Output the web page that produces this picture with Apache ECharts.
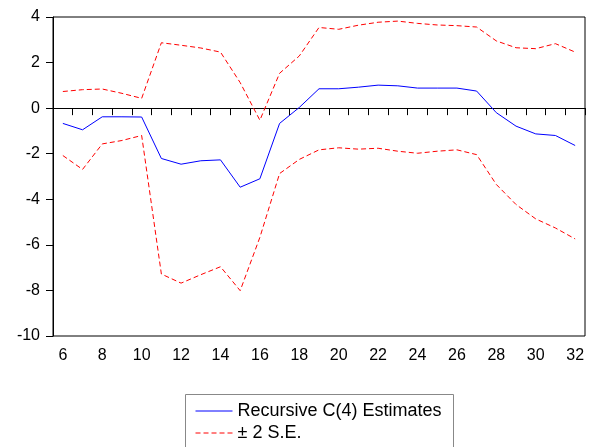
<!DOCTYPE html>
<html>
<head>
<meta charset="utf-8">
<script src="https://cdn.jsdelivr.net/npm/echarts@6/dist/echarts.min.js"></script>
<style>html,body{margin:0;padding:0;background:#fff;}#c{width:595px;height:447px;}</style>
</head>
<body>
<div id="c"></div>
<script>
var categories = ['6','7','8','9','10','11','12','13','14','15','16','17','18','19','20','21','22','23','24','25','26','27','28','29','30','31','32'];
var estimates = [-0.67,-0.95,-0.38,-0.38,-0.39,-2.21,-2.46,-2.31,-2.27,-3.47,-3.10,-0.67,0.03,0.85,0.85,0.92,1.01,0.98,0.88,0.88,0.88,0.75,-0.20,-0.79,-1.13,-1.20,-1.64];
var upperBand = [0.73,0.81,0.84,0.65,0.43,2.87,2.76,2.64,2.46,1.12,-0.53,1.53,2.29,3.54,3.46,3.64,3.77,3.82,3.72,3.65,3.62,3.56,2.95,2.65,2.61,2.83,2.46];
var lowerBand = [-2.08,-2.69,-1.57,-1.42,-1.20,-7.28,-7.68,-7.31,-6.96,-8.01,-5.67,-2.87,-2.25,-1.83,-1.74,-1.80,-1.76,-1.89,-1.98,-1.89,-1.83,-2.04,-3.35,-4.23,-4.86,-5.26,-5.74];
var estName = 'Recursive C(4) Estimates';
var seName = '\u00b1 2 S.E.';

var font = '"Liberation Sans", Arial, sans-serif';
var legendBase = {
  orient: 'vertical',
  itemWidth: 37, itemHeight: 14, itemGap: 5,
  itemStyle: {opacity: 0},
  lineStyle: {width: 1},
  textStyle: {fontFamily: font, fontSize: 18, color: '#000', lineHeight: 18}
};
var chart = echarts.init(document.getElementById('c'), null, {renderer: 'canvas'});
chart.setOption({
  animation: false,
  backgroundColor: '#fff',
  graphic: [{
    type: 'rect', left: 185, top: 394, z: 0,
    shape: {width: 268, height: 80},
    style: {fill: '#fff', stroke: '#888', lineWidth: 1}
  }],
  grid: {left: 53, right: 10, top: 17, bottom: 111, show: true, borderColor: '#000', borderWidth: 1},
  legend: [
    Object.assign({}, legendBase, {data: [estName], left: 185, top: 402, padding: [0, 10, 0, 10]}),
    Object.assign({}, legendBase, {data: [seName], left: 185, top: 424, padding: [0, 10, 0, 10]})
  ],
  xAxis: {
    type: 'category', data: categories, boundaryGap: true,
    axisLine: {lineStyle: {color: '#000', width: 1}},
    axisTick: {show: true, interval: 0, length: 7, lineStyle: {color: '#000'}},
    axisLabel: {interval: 1, margin: 12, fontFamily: font, fontSize: 16, color: '#000'},
    splitLine: {show: false}
  },
  yAxis: {
    type: 'value', min: -10, max: 4, interval: 2,
    axisLine: {show: true, lineStyle: {color: '#000', width: 1}},
    axisTick: {show: true, length: 7, lineStyle: {color: '#000'}},
    axisLabel: {margin: 13, fontFamily: font, fontSize: 16, color: '#000'},
    splitLine: {show: false}
  },
  series: [
    {name: estName, type: 'line', data: estimates, symbol: 'none', lineStyle: {color: '#0000ff', width: 1}, itemStyle: {color: '#0000ff'}},
    {name: seName, type: 'line', data: upperBand, symbol: 'none', lineStyle: {color: '#ff0000', width: 1, type: [5, 3]}, itemStyle: {color: '#ff0000'}},
    {name: seName, type: 'line', data: lowerBand, symbol: 'none', lineStyle: {color: '#ff0000', width: 1, type: [5, 3]}, itemStyle: {color: '#ff0000'}}
  ]
});
</script>
</body>
</html>
